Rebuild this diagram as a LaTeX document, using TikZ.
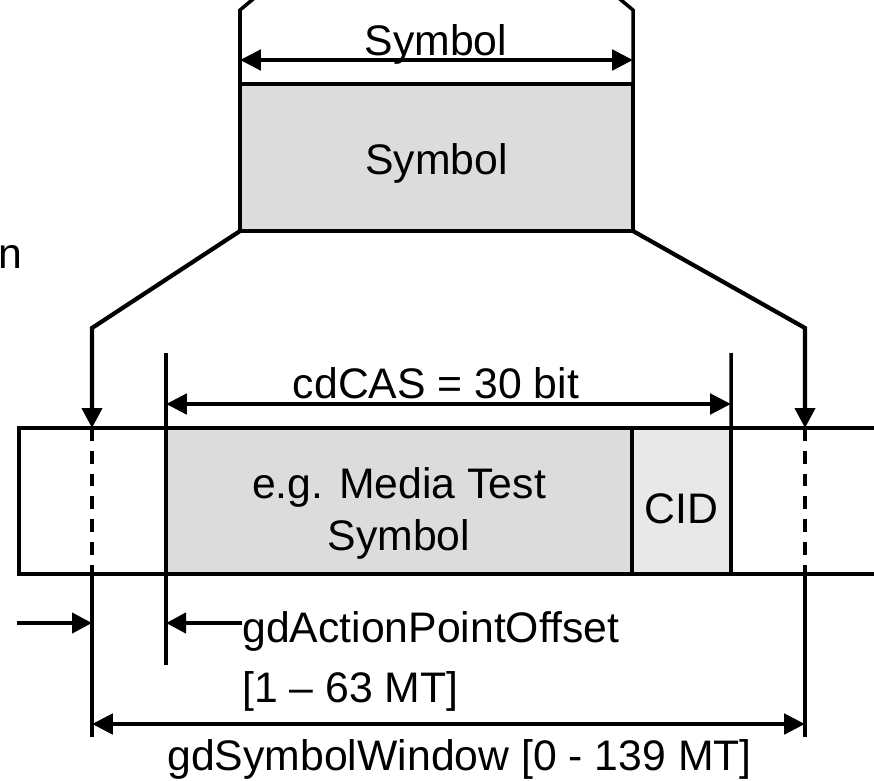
\documentclass[tikz,border=0pt]{standalone}
\usepackage{fontspec}
\setmainfont{Liberation Sans}
\usetikzlibrary{arrows.meta}

\definecolor{symgray}{RGB}{220,220,220}
\definecolor{cidgray}{RGB}{232,232,232}

\begin{document}
\begin{tikzpicture}[
  every node/.style={font=\fontsize{30.4}{37}\selectfont, inner sep=0pt},
  frame/.style={line width=2.5pt},
  box/.style={draw, line width=2.5pt, anchor=north west, outer sep=0pt},
  dim/.style={line width=3.3pt, {Triangle[length=0.52cm,width=0.5cm]}-{Triangle[length=0.52cm,width=0.5cm]}},
  pointer/.style={line width=3pt, -{Triangle[length=0.5cm,width=0.5cm]}},
  cutline/.style={line width=2.8pt, dash pattern=on 0.32cm off 0.25cm}
  ]

\useasboundingbox (0,0) rectangle (21.85,-19.5);

% symbol oben
\node[box, fill=symgray, minimum width=9.825cm, minimum height=3.675cm] (sym) at (6,-2.1) {};
\node (symtxt) at ([yshift=-0.15cm]sym.center) {Symbol};

\coordinate (symtl) at (6,-0.25);
\coordinate (symtr) at (15.825,-0.25);
\draw[frame] (sym.north west) -- (symtl) -- ++(0.45,0.375);
\draw[frame] (sym.north east) -- (symtr) -- ++(-0.45,0.375);

\coordinate (symL) at (6,-1.5);
\coordinate (symR) at (15.825,-1.5);
\draw[dim] (symL) -- (symR);
\node[anchor=base] (symlen) at (10.9,-1.375) {Symbol};

\node[anchor=base east] (cut) at (0.575,-6.7) {n};

% band
\draw[frame] (22,-10.7) -- (0.475,-10.7) -- (0.475,-14.35) -- (22,-14.35);
\node[box, fill=symgray, minimum width=11.65cm, minimum height=3.65cm] (media) at (4.15,-10.7) {};
\node[box, fill=cidgray, minimum width=2.475cm, minimum height=3.65cm] (cid) at (media.north east) {};
\node[align=center] (mediatxt) at ([yshift=-0.3cm]media.center) {e.g. Media Test\\Symbol};
\node (cidtxt) at ([yshift=-0.2cm]cid.center) {CID};

% leader lines
\coordinate (lbend) at (2.3,-8.2);
\coordinate (rbend) at (20.125,-8.2);
\coordinate (ltip) at (2.3,-10.7);
\coordinate (rtip) at (20.125,-10.7);
\coordinate (lbot) at (2.3,-14.35);
\coordinate (rbot) at (20.125,-14.35);
\coordinate (lend) at (2.3,-18.425);
\coordinate (rend) at (20.125,-18.425);

\draw[pointer] (sym.south west) -- (lbend) -- (ltip);
\draw[pointer] (sym.south east) -- (rbend) -- (rtip);
\draw[cutline] (ltip) -- (lbot);
\draw[cutline] (rtip) -- (rbot);
\draw[frame] (lbot) -- (lend);
\draw[frame] (rbot) -- (rend);

% cdCAS
\coordinate (castop) at (4.15,-8.825);
\coordinate (apobot) at (4.15,-16.625);
\coordinate (cidtop) at (18.275,-8.825);
\draw[frame] (castop) -- (apobot);
\draw[frame] (cidtop) -- (cid.north east);

\coordinate (casL) at (4.15,-10.1);
\coordinate (casR) at (18.275,-10.1);
\draw[dim] (casL) -- (casR);
\node[anchor=base] (cas) at (10.9,-9.95) {cdCAS = 30 bit};

% action point offset
\node[anchor=base west] (apo) at (6.05,-16.05) {gdActionPointOffset};
\node[anchor=base west] (apor) at (6.05,-17.55) {[1 – 63 MT]};

\coordinate (apotip) at (4.15,-15.575);
\coordinate (wintail) at (0.425,-15.575);
\coordinate (wintip) at (2.3,-15.575);
\draw[pointer] (apo.west |- apotip) -- (apotip);
\draw[pointer] (wintail) -- (wintip);

% symbol window
\coordinate (winL) at (2.3,-18.1);
\coordinate (winR) at (20.125,-18.1);
\draw[dim] (winL) -- (winR);
\node[anchor=base] (win) at (11.49,-19.25) {gdSymbolWindow [0 - 139 MT]};

\end{tikzpicture}
\end{document}
